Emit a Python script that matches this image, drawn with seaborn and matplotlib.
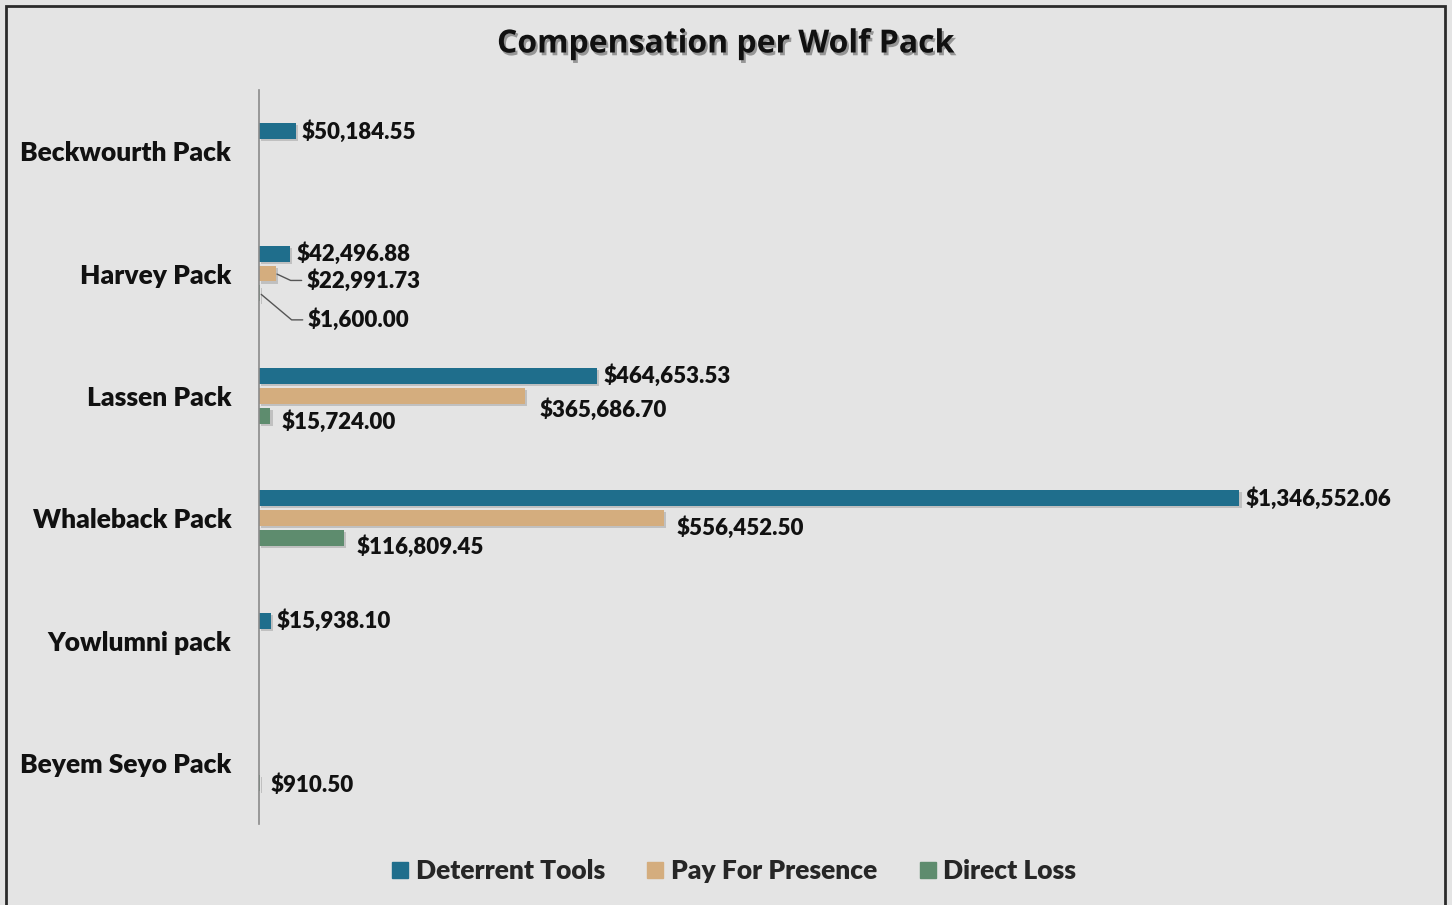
import matplotlib
matplotlib.use("Agg")
import matplotlib.pyplot as plt
import matplotlib.patheffects as pe
from matplotlib.patches import Rectangle
import seaborn as sns
import pandas as pd

packs = ["Beckwourth Pack", "Harvey Pack", "Lassen Pack", "Whaleback Pack",
         "Yowlumni pack", "Beyem Seyo Pack"]
series = ["Deterrent Tools", "Pay For Presence", "Direct Loss"]

deterrent_tools = [50184.55, 42496.88, 464653.53, 1346552.06, 15938.10, None]
pay_for_presence = [None, 22991.73, 365686.70, 556452.50, None, None]
direct_loss = [None, 1600.00, 15724.00, 116809.45, None, 910.50]

colors = ["#1f6e8c", "#d4ad7e", "#5e8c6e"]
bg = "#e4e4e4"

rows = []
for s, vals in zip(series, [deterrent_tools, pay_for_presence, direct_loss]):
    for p, v in zip(packs, vals):
        if v is not None:
            rows.append({"pack": p, "series": s, "value": v})
df = pd.DataFrame(rows)

# label nudges (points) for the crowded labels, keyed by (pack, series)
nudges = {
    ("Harvey Pack", "Pay For Presence"): (22, -5),
    ("Harvey Pack", "Direct Loss"): (34, -19),
    ("Lassen Pack", "Pay For Presence"): (10, -10),
    ("Lassen Pack", "Direct Loss"): (8, -4),
    ("Whaleback Pack", "Pay For Presence"): (9, -7),
    ("Whaleback Pack", "Direct Loss"): (9, -6),
    ("Beyem Seyo Pack", "Direct Loss"): (8, -1.5),
}
leaders = {("Harvey Pack", "Pay For Presence"): -25,
           ("Harvey Pack", "Direct Loss"): -40}

sns.set_theme(style="white")
plt.rcParams["font.family"] = ["Lato", "DejaVu Sans"]

fig = plt.figure(figsize=(14.52, 9.05), dpi=100)
fig.patch.set_facecolor(bg)
ax = fig.add_axes([259 / 1452, 1 - 824 / 905, 1165 / 1452, 734 / 905])
ax.set_facecolor(bg)

sns.barplot(data=df, y="pack", x="value", hue="series", order=packs,
            hue_order=series, palette=colors, orient="h", width=0.49, gap=0.2,
            dodge=True, ax=ax, errorbar=None, saturation=1, linewidth=0)

shadow = [pe.SimplePatchShadow(offset=(1.5, -1.5), alpha=0.25, shadow_rgbFace="#555555"),
          pe.Normal()]
for bar in ax.patches:
    bar.set_edgecolor("none")
    bar.set_path_effects(shadow)

ax.set_xlim(0, 1600000)
ax.set_xlabel("")
ax.set_ylabel("")
ax.set_xticks([])
for side in ["top", "right", "bottom"]:
    ax.spines[side].set_visible(False)
ax.spines["left"].set_color("#8a8a8a")
ax.spines["left"].set_linewidth(1.2)
ax.tick_params(axis="y", length=0, pad=20)
for t in ax.get_yticklabels():
    t.set_fontsize(19)
    t.set_fontweight("heavy")
    t.set_color("#111111")

for cont, s in zip(ax.containers, series):
    for bar in cont:
        w = bar.get_width()
        if w != w or w == 0:
            continue
        y = bar.get_y() + bar.get_height() / 2
        p = packs[int(round(y))]
        dx, dy = nudges.get((p, s), (4.5, 0))
        arrow = None
        if (p, s) in leaders:
            arrow = dict(arrowstyle="-", color="#555555", lw=1, relpos=(0, 0.5),
                         shrinkA=1, shrinkB=1,
                         connectionstyle=f"angle,angleA=0,angleB={leaders[(p, s)]},rad=0")
        ax.annotate(f"${w:,.2f}", xy=(w, y), xytext=(dx, dy),
                    textcoords="offset points", ha="left", va="center",
                    fontsize=16, fontweight="heavy", color="#111111",
                    arrowprops=arrow)

ax.legend_.remove()
handles = [plt.Line2D([], [], marker="s", linestyle="", markersize=11,
                      markerfacecolor=c, markeredgecolor=c) for c in colors]
fig.legend(handles, series, loc="center", bbox_to_anchor=(0.503, 1 - 871 / 905),
           ncol=3, frameon=False, handletextpad=0.0, handlelength=1.2,
           columnspacing=1.3, prop={"weight": "heavy", "size": 19})

fig.text(0.5, 1 - 44 / 905, "Compensation per Wolf Pack", ha="center", va="center",
         fontsize=23, fontweight="bold", color="#111111", family=["Open Sans", "DejaVu Sans"],
         path_effects=[pe.withSimplePatchShadow(offset=(1.5, -2), alpha=0.35)])

fig.patches.append(Rectangle((6 / 1452, -0.02), 1439 / 1452, 1.02 - 6 / 905,
                             transform=fig.transFigure, fill=False,
                             edgecolor="#2b2b2b", linewidth=2))

fig.savefig("out.png", dpi=100, facecolor=bg)
